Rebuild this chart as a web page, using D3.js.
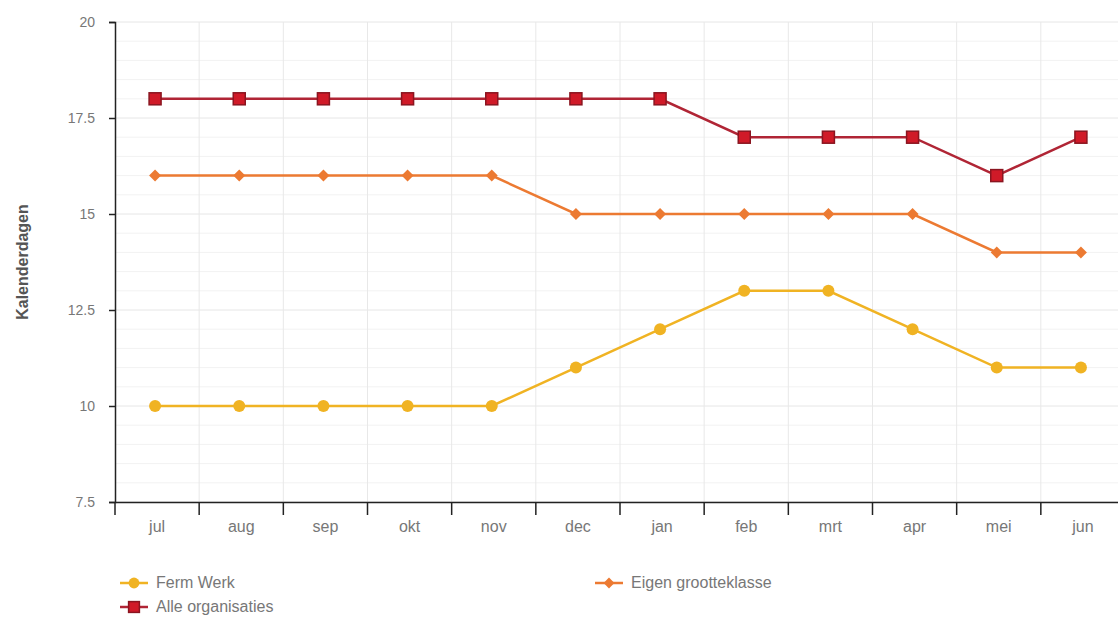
<!DOCTYPE html>
<html><head><meta charset="utf-8">
<script src="https://cdn.jsdelivr.net/npm/d3@7"></script>
<style>body{margin:0;background:#fff;} text{font-family:"Liberation Sans",Arial,sans-serif;}</style>
</head><body><svg id="c" width="1118" height="619"></svg>
<script>
const months = ["jul","aug","sep","okt","nov","dec","jan","feb","mrt","apr","mei","jun"];
const fermWerk = [10,10,10,10,10,11,12,13,13,12,11,11];
const eigenGrootteklasse = [16,16,16,16,16,15,15,15,15,15,14,14];
const alleOrganisaties = [18,18,18,18,18,18,18,17,17,17,16,17];
const yTicks = [7.5,10,12.5,15,17.5,20];
const seriesNames = ["Ferm Werk","Eigen grootteklasse","Alle organisaties"];

const svg = d3.select("#c");
const L=115, R=1125, T=22, B=502;
const x = d3.scaleBand().domain(months).range([L,R]);
const y = d3.scaleLinear().domain([7.5,20]).range([B,T]);

// grid
const g = svg.append("g");
const minor = d3.range(7.5,20.01,0.5);
g.selectAll("line.h").data(minor).join("line")
 .attr("x1",L).attr("x2",1118).attr("y1",d=>y(d)).attr("y2",d=>y(d))
 .attr("stroke",d=>yTicks.includes(d)?"#e6e6e6":"#f2f2f2").attr("stroke-width",1);
g.selectAll("line.v").data(months.slice(1)).join("line")
 .attr("x1",d=>x(d)).attr("x2",d=>x(d)).attr("y1",T).attr("y2",B)
 .attr("stroke","#e8e8e8");

// y axis
const ya = svg.append("g").attr("transform",`translate(${L},0)`)
 .call(d3.axisLeft(y).tickValues(yTicks).tickSize(6).tickPadding(14).tickFormat(d=>String(d)));
ya.select(".domain").attr("stroke","#222").attr("stroke-width",1.5);
ya.selectAll(".tick line").attr("stroke","#222").attr("stroke-width",1.5);
ya.selectAll(".tick text").attr("fill","#777").attr("font-size",14);

// x axis
const xa = svg.append("g").attr("transform",`translate(0,${B})`)
 .call(d3.axisBottom(x).tickSize(0).tickPadding(19));
xa.select(".domain").attr("stroke","#222").attr("stroke-width",1.5);
xa.selectAll(".tick text").attr("fill","#777").attr("font-size",16);
svg.append("g").selectAll("line").data(months).join("line")
 .attr("x1",d=>x(d)).attr("x2",d=>x(d)).attr("y1",B).attr("y2",B+13)
 .attr("stroke","#222").attr("stroke-width",1.5);

svg.append("text").attr("transform",`translate(28,${(T+B)/2}) rotate(-90)`)
 .attr("text-anchor","middle").attr("font-weight","bold").attr("font-size",16)
 .attr("fill","#555").text("Kalenderdagen");

const cx = d=>x(d)+x.bandwidth()/2 - 2;
const line = d3.line().x((d,i)=>cx(months[i])).y(d=>y(d));

const cfg = [
 {name:seriesNames[0], data:fermWerk, color:"#f0b323", marker:"circle"},
 {name:seriesNames[1], data:eigenGrootteklasse, color:"#ec7a32", marker:"diamond"},
 {name:seriesNames[2], data:alleOrganisaties, color:"#c8202c", marker:"square"}
];
function marker(sel,type,color,s){
 if(type==="circle") sel.append("circle").attr("r",6*s).attr("fill",color);
 else if(type==="diamond") sel.append("path").attr("d",`M0,${-6*s}L${6*s},0L0,${6*s}L${-6*s},0Z`).attr("fill",color);
 else sel.append("rect").attr("x",-6*s).attr("y",-6*s).attr("width",12*s).attr("height",12*s).attr("fill","#d01a28").attr("stroke","#8a1520").attr("stroke-width",1.5);
}
cfg.forEach(s=>{
 svg.append("path").datum(s.data).attr("d",line).attr("fill","none")
  .attr("stroke",s.marker==="square"?"#b02535":s.color).attr("stroke-width",2.5);
 s.data.forEach((v,i)=>{
  const m = svg.append("g").attr("transform",`translate(${cx(months[i])},${y(v)})`);
  marker(m,s.marker,s.color,1);
 });
});

// legend
const leg = [{s:cfg[0],x:120,y:583},{s:cfg[1],x:595,y:583},{s:cfg[2],x:120,y:607}];
leg.forEach(l=>{
 const gg = svg.append("g").attr("transform",`translate(${l.x},${l.y})`);
 gg.append("line").attr("x1",0).attr("x2",28).attr("stroke",l.s.marker==="square"?"#b02535":l.s.color).attr("stroke-width",2.5);
 const m = gg.append("g").attr("transform","translate(14,0)");
 marker(m,l.s.marker,l.s.color,0.9);
 gg.append("text").attr("x",36).attr("y",5).attr("font-size",16).attr("fill","#777").text(l.s.name);
});
</script></body></html>
